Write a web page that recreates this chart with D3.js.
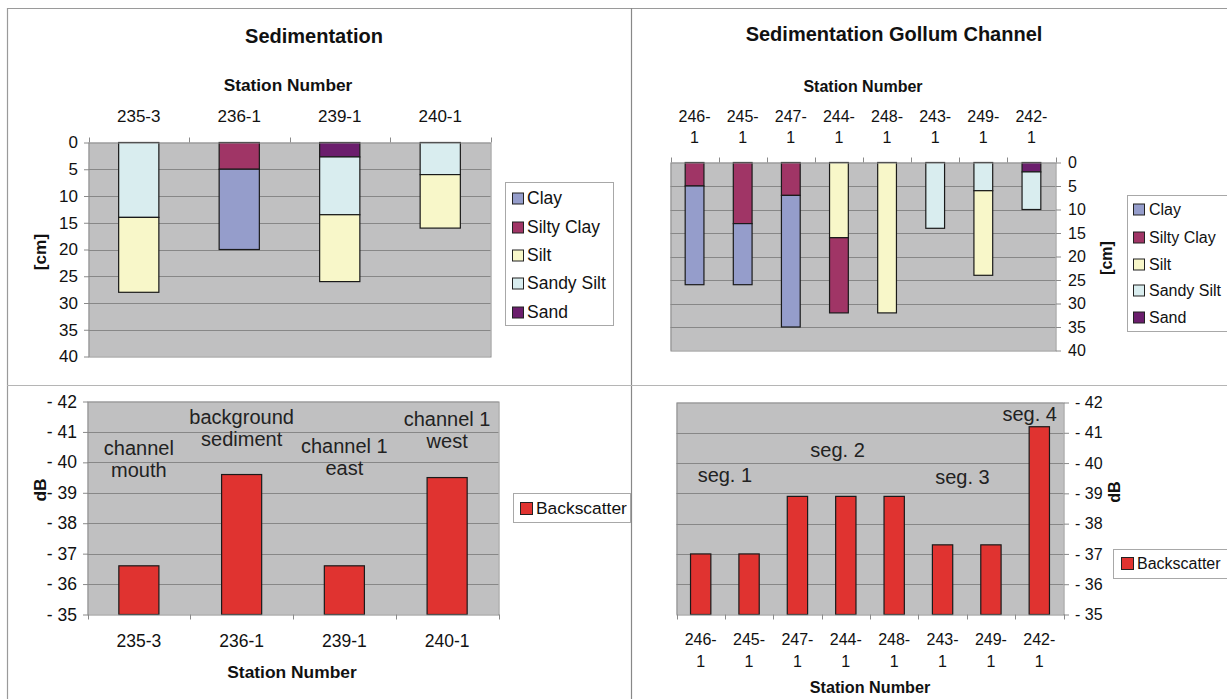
<!DOCTYPE html>
<html>
<head>
<meta charset="utf-8">
<script src="https://cdn.jsdelivr.net/npm/d3@7"></script>
<style>
  html, body { margin: 0; padding: 0; background: #fff; }
  svg { display: block; font-family: "Liberation Sans", Arial, sans-serif; }
</style>
</head>
<body>
<svg id="chart" width="1227" height="699"></svg>
<script>
// ---------------- DATA ----------------
const soilTypes = ["Clay", "Silty Clay", "Silt", "Sandy Silt", "Sand"];          // legend order
const stackOrder = ["Sand", "Sandy Silt", "Silt", "Silty Clay", "Clay"];         // top -> bottom
const depthTicks = [0, 5, 10, 15, 20, 25, 30, 35, 40];
const dbTicks = [-35, -36, -37, -38, -39, -40, -41, -42];

const stationsA = ["235-3", "236-1", "239-1", "240-1"];
const clayA       = [0, 15, 0, 0];
const siltyClayA  = [0, 5, 0, 0];
const siltA       = [14, 0, 12.5, 10];
const sandySiltA  = [14, 0, 10.8, 6];
const sandA       = [0, 0, 2.7, 0];

const stationsB = ["246-1", "245-1", "247-1", "244-1", "248-1", "243-1", "249-1", "242-1"];
const clayB       = [21, 13, 28, 0, 0, 0, 0, 0];
const siltyClayB  = [5, 13, 7, 16, 0, 0, 0, 0];
const siltB       = [0, 0, 0, 16, 32, 0, 18, 0];
const sandySiltB  = [0, 0, 0, 0, 0, 14, 6, 8];
const sandB       = [0, 0, 0, 0, 0, 0, 0, 2];

const backscatterA = [-36.6, -39.6, -36.6, -39.5];
const backscatterB = [-37.0, -37.0, -38.9, -38.9, -38.9, -37.3, -37.3, -41.2];

const notesA = [["channel", "mouth"], ["background", "sediment"], ["channel 1", "east"], ["channel 1", "west"]];
const notesB = ["seg. 1", "seg. 2", "seg. 3", "seg. 4"];

// ---------------- STYLE ----------------
const colors = {
  "Clay": "#959dcb",
  "Silty Clay": "#a03566",
  "Silt": "#f8f7c9",
  "Sandy Silt": "#d9edef",
  "Sand": "#6b1e6d"
};
const barRed = "#e03330";
const plotBg = "#c0c0c1";
const gridCol = "#878787";
const axisCol = "#8a8a8a";

const svg = d3.select("#chart");

// panel frame lines
const frame = svg.append("g").attr("stroke", "#9a9a9a").attr("stroke-width", 1.2);
frame.append("line").attr("x1", 7).attr("x2", 1227).attr("y1", 8.5).attr("y2", 8.5);
frame.append("line").attr("x1", 7.5).attr("x2", 7.5).attr("y1", 8).attr("y2", 699);
frame.append("line").attr("x1", 631.5).attr("x2", 631.5).attr("y1", 8).attr("y2", 699).attr("stroke", "#888");
frame.append("line").attr("x1", 7).attr("x2", 1227).attr("y1", 385.5).attr("y2", 385.5).attr("stroke", "#b5b5b5");

function table(stations, arrs) {
  return stations.map((s, i) => {
    const row = { station: s };
    soilTypes.forEach((t, k) => row[t] = arrs[k][i]);
    return row;
  });
}

function splitLabel(s) {
  const i = s.indexOf("-");
  return [s.slice(0, i + 1), s.slice(i + 1)];
}

function plotFrame(g, x0, x1, y0, y1) {
  g.append("rect").attr("x", x0).attr("y", y0).attr("width", x1 - x0).attr("height", y1 - y0)
    .attr("fill", plotBg);
}

function legend(g, items, box, swatchX, textX, ys, sw, colorOf, fs) {
  g.append("rect").attr("x", box[0] + 0.5).attr("y", box[1] + 0.5)
    .attr("width", box[2] - box[0]).attr("height", box[3] - box[1])
    .attr("fill", "#fff").attr("stroke", "#a8a8a8");
  items.forEach((it, i) => {
    g.append("rect").attr("x", swatchX + 0.5).attr("y", ys[i] - sw / 2 + 0.5)
      .attr("width", sw).attr("height", sw).attr("fill", colorOf(it))
      .attr("stroke", "#222").attr("stroke-width", 1);
    g.append("text").attr("x", textX).attr("y", ys[i]).attr("dy", "0.36em")
      .attr("font-size", fs).attr("fill", "#111").text(it);
  });
}

function catLabels(g, cfg, x) {
  const cl = g.append("g").attr("font-size", cfg.fs).attr("fill", "#111").attr("text-anchor", "middle");
  cfg.stations.forEach(s => {
    const cx = x(s) + x.bandwidth() / 2;
    if (cfg.twoLine) {
      const [a, b] = splitLabel(s);
      cl.append("text").attr("x", cx).attr("y", cfg.catY[0]).text(a);
      cl.append("text").attr("x", cx).attr("y", cfg.catY[1]).text(b);
    } else {
      cl.append("text").attr("x", cx).attr("y", cfg.catY[0]).text(s);
    }
  });
}

// ---------------- STACKED SEDIMENT CHART ----------------
function sedimentChart(cfg) {
  const g = svg.append("g");
  const data = table(cfg.stations, cfg.arrs);
  const x = d3.scaleBand().domain(cfg.stations).range([cfg.x0, cfg.x1]).padding(0);
  const y = d3.scaleLinear().domain([0, 40]).range([cfg.y0, cfg.y1]);
  const stack = d3.stack().keys(stackOrder)(data);

  plotFrame(g, cfg.x0, cfg.x1, cfg.y0, cfg.y1);
  g.append("g").selectAll("line").data(depthTicks.filter(d => d > 0 && d < 40)).join("line")
    .attr("x1", cfg.x0).attr("x2", cfg.x1)
    .attr("y1", d => Math.round(y(d)) + 0.5).attr("y2", d => Math.round(y(d)) + 0.5)
    .attr("stroke", gridCol);

  const bw = x.bandwidth() * cfg.barFrac;
  stack.forEach(layer => {
    g.append("g").selectAll("rect").data(layer.filter(d => d[1] - d[0] > 0)).join("rect")
      .attr("x", d => x(d.data.station) + (x.bandwidth() - bw) / 2)
      .attr("width", bw)
      .attr("y", d => y(d[0]))
      .attr("height", d => y(d[1]) - y(d[0]))
      .attr("fill", colors[layer.key])
      .attr("stroke", "#1a1a1a").attr("stroke-width", 1.2);
  });

  g.append("rect").attr("x", cfg.x0 + 0.5).attr("y", cfg.y0 + 0.5)
    .attr("width", cfg.x1 - cfg.x0).attr("height", cfg.y1 - cfg.y0)
    .attr("fill", "none").attr("stroke", axisCol);

  // top category ticks at band boundaries
  g.append("g").selectAll("line").data(d3.range(cfg.stations.length + 1)).join("line")
    .attr("x1", i => Math.round(cfg.x0 + i * x.step()) + 0.5)
    .attr("x2", i => Math.round(cfg.x0 + i * x.step()) + 0.5)
    .attr("y1", cfg.y0 - 5).attr("y2", cfg.y0)
    .attr("stroke", axisCol);

  catLabels(g, cfg, x);

  const axis = (cfg.right ? d3.axisRight(y) : d3.axisLeft(y))
    .tickValues(depthTicks).tickSize(5).tickPadding(cfg.right ? 7 : 6).tickFormat(d3.format("d"));
  const va = g.append("g")
    .attr("transform", `translate(${cfg.right ? cfg.x1 + 0.5 : cfg.x0 + 0.5},0)`).call(axis);
  va.select(".domain").remove();
  va.selectAll(".tick line").attr("stroke", axisCol);
  va.selectAll(".tick text").attr("font-size", cfg.fs).attr("fill", "#111")
    .attr("font-family", "Liberation Sans, Arial, sans-serif");

  g.append("text").attr("x", cfg.titleX).attr("y", cfg.titleY).attr("text-anchor", "middle")
    .attr("font-size", 20).attr("font-weight", "bold").attr("fill", "#111").text(cfg.title);
  g.append("text").attr("x", cfg.stationX).attr("y", cfg.stationY).attr("text-anchor", "middle")
    .attr("font-size", cfg.fsBold).attr("font-weight", "bold").attr("fill", "#111").text("Station Number");
  g.append("text").attr("transform", `translate(${cfg.unitX},${cfg.unitY}) rotate(-90)`)
    .attr("text-anchor", "middle").attr("dy", "0.35em")
    .attr("font-size", cfg.fsBold).attr("font-weight", "bold").attr("fill", "#111").text("[cm]");

  legend(g, soilTypes, cfg.legBox, cfg.legSwX, cfg.legTxX, cfg.legYs, cfg.sw, t => colors[t], cfg.legFs);
}

// ---------------- BACKSCATTER CHART ----------------
function backscatterChart(cfg) {
  const g = svg.append("g");
  const x = d3.scaleBand().domain(cfg.stations).range([cfg.x0, cfg.x1]).padding(0);
  const y = d3.scaleLinear().domain([-35, -42]).range([cfg.y1, cfg.y0]);

  plotFrame(g, cfg.x0, cfg.x1, cfg.y0, cfg.y1);
  g.append("g").selectAll("line").data(dbTicks.filter(d => d < -35 && d > -42)).join("line")
    .attr("x1", cfg.x0).attr("x2", cfg.x1)
    .attr("y1", d => Math.round(y(d)) + 0.5).attr("y2", d => Math.round(y(d)) + 0.5)
    .attr("stroke", gridCol);

  const bw = x.bandwidth() * cfg.barFrac;
  g.append("g").selectAll("rect").data(cfg.values).join("rect")
    .attr("x", (d, i) => x(cfg.stations[i]) + (x.bandwidth() - bw) / 2)
    .attr("width", bw)
    .attr("y", d => y(d))
    .attr("height", d => y(-35) - y(d))
    .attr("fill", barRed).attr("stroke", "#1a1a1a").attr("stroke-width", 1.2);

  g.append("rect").attr("x", cfg.x0 + 0.5).attr("y", cfg.y0 + 0.5)
    .attr("width", cfg.x1 - cfg.x0).attr("height", cfg.y1 - cfg.y0)
    .attr("fill", "none").attr("stroke", axisCol);

  g.append("g").selectAll("line").data(d3.range(cfg.stations.length + 1)).join("line")
    .attr("x1", i => Math.round(cfg.x0 + i * x.step()) + 0.5)
    .attr("x2", i => Math.round(cfg.x0 + i * x.step()) + 0.5)
    .attr("y1", cfg.y1).attr("y2", cfg.y1 + 5)
    .attr("stroke", axisCol);

  catLabels(g, cfg, x);

  const axis = (cfg.right ? d3.axisRight(y) : d3.axisLeft(y))
    .tickValues(dbTicks).tickSize(5).tickPadding(6)
    .tickFormat(d => "- " + Math.abs(d));
  const va = g.append("g")
    .attr("transform", `translate(${cfg.right ? cfg.x1 + 0.5 : cfg.x0 + 0.5},0)`).call(axis);
  va.select(".domain").remove();
  va.selectAll(".tick line").attr("stroke", axisCol);
  va.selectAll(".tick text").attr("font-size", cfg.fs).attr("fill", "#111")
    .attr("font-family", "Liberation Sans, Arial, sans-serif");

  g.append("text").attr("x", cfg.stationX).attr("y", cfg.stationY).attr("text-anchor", "middle")
    .attr("font-size", cfg.fsBold).attr("font-weight", "bold").attr("fill", "#111").text("Station Number");
  g.append("text").attr("transform", `translate(${cfg.unitX},${cfg.unitY}) rotate(-90)`)
    .attr("text-anchor", "middle").attr("dy", "0.35em")
    .attr("font-size", cfg.fsBold).attr("font-weight", "bold").attr("fill", "#111").text("dB");

  const ng = g.append("g").attr("font-size", 20).attr("fill", "#222").attr("text-anchor", "middle");
  cfg.notes.forEach((n, i) => {
    const cx = cfg.x0 + (cfg.notePos[i] + 0.5) * x.step();
    const lines = Array.isArray(n) ? n : [n];
    lines.forEach((ln, k) => {
      ng.append("text").attr("x", cx).attr("y", y(cfg.noteLevel[i]) + k * 22).text(ln);
    });
  });

  legend(g, ["Backscatter"], cfg.legBox, cfg.legSwX, cfg.legTxX, [cfg.legY], cfg.sw, () => barRed, cfg.legFs);
}

// ---------------- DRAW ----------------
sedimentChart({
  stations: stationsA, arrs: [clayA, siltyClayA, siltA, sandySiltA, sandA],
  x0: 88.5, x1: 490.5, y0: 142.5, y1: 356.5, barFrac: 0.4, right: false, twoLine: false,
  fs: 17, fsBold: 17.3, legFs: 17.5, sw: 11,
  catY: [122], title: "Sedimentation", titleX: 314, titleY: 43, stationX: 288, stationY: 91,
  unitX: 40, unitY: 252,
  legBox: [505, 182, 613, 325], legSwX: 512, legTxX: 527, legYs: [198, 227, 255, 283, 312]
});

sedimentChart({
  stations: stationsB, arrs: [clayB, siltyClayB, siltB, sandySiltB, sandB],
  x0: 670.5, x1: 1055.5, y0: 162.5, y1: 350.5, barFrac: 0.39, right: true, twoLine: true,
  fs: 16, fsBold: 16, legFs: 16, sw: 11,
  catY: [122, 143], title: "Sedimentation Gollum Channel", titleX: 894, titleY: 41,
  stationX: 863, stationY: 92, unitX: 1106, unitY: 258,
  legBox: [1127, 195, 1232, 331], legSwX: 1133, legTxX: 1149, legYs: [209, 237, 264, 290, 317]
});

backscatterChart({
  stations: stationsA, values: backscatterA,
  x0: 87.5, x1: 498.5, y0: 401.5, y1: 614.5, barFrac: 0.39, right: false, twoLine: false,
  fs: 17.5, fsBold: 17.4, legFs: 17.4, sw: 12,
  catY: [647], stationX: 292, stationY: 678, unitX: 40, unitY: 490,
  notes: notesA, notePos: [0, 1, 2, 3], noteLevel: [-40.25, -41.25, -40.3, -41.2],
  legBox: [513, 493, 630, 522], legSwX: 520, legTxX: 536, legY: 508
});

backscatterChart({
  stations: stationsB, values: backscatterB,
  x0: 676.5, x1: 1063.5, y0: 402.5, y1: 614.5, barFrac: 0.42, right: true, twoLine: true,
  fs: 16, fsBold: 16.2, legFs: 16, sw: 12,
  catY: [645, 667], stationX: 870, stationY: 693, unitX: 1114, unitY: 492,
  notes: notesB, notePos: [0.5, 2.83, 5.41, 6.8], noteLevel: [-39.39, -40.21, -39.32, -41.4],
  legBox: [1113, 549, 1232, 578], legSwX: 1121, legTxX: 1137, legY: 563
});
</script>
</body>
</html>
